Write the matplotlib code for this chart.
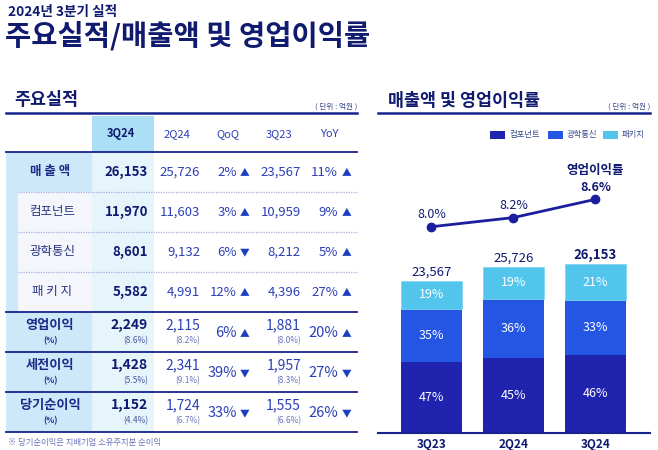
import numpy as np
import matplotlib.pyplot as plt
from matplotlib.patches import Rectangle

plt.rcParams['font.family'] = ['Noto Sans CJK KR', 'DejaVu Sans']

# chart data
quarters = ['3Q23', '2Q24', '3Q24']
component = [10959, 11603, 11970]   # 컴포넌트
optical = [8212, 9132, 8601]        # 광학통신
package = [4396, 4991, 5582]        # 패키지
total = [23567, 25726, 26153]
share_comp = ['47%', '45%', '46%']
share_opt = ['35%', '36%', '33%']
share_pkg = ['19%', '19%', '21%']
margin = [8.0, 8.2, 8.6]            # 영업이익률

# table data
col_names = ['3Q24', '2Q24', 'QoQ', '3Q23', 'YoY']
row_names = ['매 출 액', '컴포넌트', '광학통신', '패 키 지', '영업이익', '세전이익', '당기순이익']
v_3q24 = ['26,153', '11,970', '8,601', '5,582', '2,249', '1,428', '1,152']
v_2q24 = ['25,726', '11,603', '9,132', '4,991', '2,115', '2,341', '1,724']
qoq = ['2%', '3%', '6%', '12%', '6%', '39%', '33%']
qoq_dir = ['▲', '▲', '▼', '▲', '▲', '▼', '▼']
v_3q23 = ['23,567', '10,959', '8,212', '4,396', '1,881', '1,957', '1,555']
yoy = ['11%', '9%', '5%', '27%', '20%', '27%', '26%']
yoy_dir = ['▲', '▲', '▲', '▲', '▲', '▼', '▼']
r_3q24 = ['', '', '', '', '(8.6%)', '(5.5%)', '(4.4%)']
r_2q24 = ['', '', '', '', '(8.2%)', '(9.1%)', '(6.7%)']
r_3q23 = ['', '', '', '', '(8.0%)', '(8.3%)', '(6.6%)']

navy = '#101a6e'
blue_txt = '#2b3fb8'
c_comp = '#1f23ad'
c_opt = '#2555e3'
c_pkg = '#52c5ec'

fig = plt.figure(figsize=(6.58, 4.5), dpi=100)

# overlay in pixel coords for the table and headings
bg = fig.add_axes([0, 0, 1, 1])
bg.set_xlim(0, 658)
bg.set_ylim(450, 0)
bg.axis('off')

bg.text(8, 12, '2024년 3분기 실적', fontsize=9.8, fontweight='bold', color=navy, va='center')
bg.text(5, 36, '주요실적/매출액 및 영업이익률', fontsize=20.5, fontweight='bold', color=navy, va='center')

# section headings
bg.text(14, 100, '주요실적', fontsize=12.5, fontweight='bold', color=navy, va='center')
bg.text(357, 107, '( 단위 : 억원 )', fontsize=5.5, color='#3a4a8a', va='center', ha='right')
bg.plot([6, 357], [113, 113], color='#17238c', lw=1.8)
bg.text(388, 101, '매출액 및 영업이익률', fontsize=12.5, fontweight='bold', color=navy, va='center')
bg.text(650, 107, '( 단위 : 억원 )', fontsize=5.5, color='#3a4a8a', va='center', ha='right')
bg.plot([378, 650], [113, 113], color='#17238c', lw=1.8)

# table backgrounds
bg.add_patch(Rectangle((92, 116), 62, 36, color='#abdff5', lw=0))
bg.add_patch(Rectangle((92, 152), 62, 280, color='#e6f4fc', lw=0))
row_top = [152, 192, 232, 272, 312, 352, 392]
row_bot = [192, 232, 272, 312, 352, 392, 432]
sub = [False, True, True, True, False, False, False]
for i in range(len(row_names)):
    h = row_bot[i] - row_top[i]
    bg.add_patch(Rectangle((6, row_top[i]), 86, h, color='#cde8f8', lw=0))
    if sub[i]:
        bg.add_patch(Rectangle((18, row_top[i]), 74, h, color='#f4f6fb', lw=0))

# header row
col_x = [121, 177, 228, 279, 329]
for x, c in zip(col_x, col_names):
    bg.text(x, 134, c, fontsize=8, color=blue_txt if c != '3Q24' else navy,
            fontweight='bold' if c == '3Q24' else 'normal', ha='center', va='center')
bg.plot([6, 357], [152, 152], color='#17238c', lw=1.3)

# row separators
for y in [192, 232, 272]:
    bg.plot([18, 357], [y, y], color='#a6aedc', lw=0.9, ls=(0, (1, 1)))
for y in [312, 352, 392, 432]:
    bg.plot([6, 357], [y, y], color='#17238c', lw=1.3)

# rows
for i, name in enumerate(row_names):
    yc = (row_top[i] + row_bot[i]) / 2
    if r_3q24[i]:
        y1 = yc - 7
        bg.text(50, y1, name, fontsize=9.5, fontweight='bold', color='#1d2a8a', ha='center', va='center')
        bg.text(50, yc + 9, '(%)', fontsize=6, fontweight='bold', color='#1d2a8a', ha='center', va='center')
        bg.text(148, y1, v_3q24[i], fontsize=10, fontweight='bold', color=navy, ha='right', va='center')
        bg.text(148, yc + 9, r_3q24[i], fontsize=6, color='#4a56a0', ha='right', va='center')
        bg.text(200, y1, v_2q24[i], fontsize=10, color=blue_txt, ha='right', va='center')
        bg.text(200, yc + 9, r_2q24[i], fontsize=6, color='#6a74b8', ha='right', va='center')
        bg.text(301, y1, v_3q23[i], fontsize=10, color=blue_txt, ha='right', va='center')
        bg.text(301, yc + 9, r_3q23[i], fontsize=6, color='#6a74b8', ha='right', va='center')
        pfs = 10.5
        yp = yc + 1
    else:
        bold = not sub[i]
        bg.text(52 if sub[i] else 50, yc, name, fontsize=9,
                fontweight='bold' if bold else 'normal',
                color='#1d2a8a' if bold else '#2a3580', ha='center', va='center')
        bg.text(148, yc, v_3q24[i], fontsize=9.5, fontweight='bold', color=navy, ha='right', va='center')
        bg.text(200, yc, v_2q24[i], fontsize=9.5, color=blue_txt, ha='right', va='center')
        bg.text(301, yc, v_3q23[i], fontsize=9.5, color=blue_txt, ha='right', va='center')
        pfs = 9.5
        yp = yc
    bg.text(237, yp, qoq[i], fontsize=pfs, color=blue_txt, ha='right', va='center')
    bg.text(245, yp, qoq_dir[i], fontsize=7, color='#1c3fc0', ha='center', va='center')
    bg.text(338, yp, yoy[i], fontsize=pfs, color=blue_txt, ha='right', va='center')
    bg.text(347, yp, yoy_dir[i], fontsize=7, color='#1c3fc0', ha='center', va='center')

bg.text(8, 443, '※ 당기순이익은 지배기업 소유주지분 순이익', fontsize=6, color='#6a74b8', va='center')

# legend
leg_lbl = ['컴포넌트', '광학통신', '패키지']
leg_col = [c_comp, c_opt, c_pkg]
leg_x = [490, 548, 603]
for x, l, c in zip(leg_x, leg_lbl, leg_col):
    bg.add_patch(Rectangle((x, 131), 15, 8, color=c, lw=0))
    bg.text(x + 19, 135, l, fontsize=6, color='#3a4a8a', va='center')

# bar chart
ax = fig.add_axes([378 / 658, 17.5 / 450, 272 / 658, 282 / 450])
ax.set_facecolor('none')
x = np.arange(len(quarters))
comp = np.array(component)
opt = np.array(optical)
pkg = np.array(package)
ax.bar(x, comp, width=0.74, color=c_comp)
ax.bar(x, opt, width=0.74, bottom=comp, color=c_opt)
ax.bar(x, pkg, width=0.74, bottom=comp + opt, color=c_pkg, edgecolor='#7fd6f2', lw=0.6)
for i in range(len(quarters)):
    ax.text(x[i], comp[i] / 2, share_comp[i], color='white', fontsize=9, ha='center', va='center')
    ax.text(x[i], comp[i] + opt[i] / 2, share_opt[i], color='white', fontsize=9, ha='center', va='center')
    ax.text(x[i], comp[i] + opt[i] + pkg[i] / 2, share_pkg[i], color='white', fontsize=9, ha='center', va='center')
    ax.annotate(f'{total[i]:,}', (x[i], total[i]), xytext=(0, 1.5), textcoords='offset points',
                ha='center', va='bottom', fontsize=9.5, color=navy,
                fontweight='bold' if i == len(quarters) - 1 else 'normal')
ax.set_xlim(-0.652, 2.665)
ax.set_ylim(0, 43789)
for s in ['top', 'left', 'right']:
    ax.spines[s].set_visible(False)
ax.spines['bottom'].set_color('#17238c')
ax.spines['bottom'].set_linewidth(1.5)
ax.set_yticks([])
ax.set_xticks(x)
ax.set_xticklabels(quarters, fontsize=8.5, fontweight='bold', color=navy)
ax.tick_params(axis='x', length=0, pad=4)

# operating margin line
ax2 = ax.twinx()
ax2.set_ylim(3.494, 9.669)
ax2.plot(x, margin, color='#1b1f9e', lw=2, marker='o', markersize=6)
for i in range(len(quarters)):
    last = i == len(quarters) - 1
    ax2.annotate(f'{margin[i]:.1f}%', (x[i], margin[i]), xytext=(0, 4), textcoords='offset points',
                 ha='center', va='bottom', fontsize=9, color=navy,
                 fontweight='bold' if last else 'normal')
ax2.annotate('영업이익률', (x[-1], margin[-1]), xytext=(0, 16), textcoords='offset points',
             ha='center', va='bottom', fontsize=9, fontweight='bold', color=navy)
ax2.axis('off')

fig.savefig('out.png', dpi=100)
